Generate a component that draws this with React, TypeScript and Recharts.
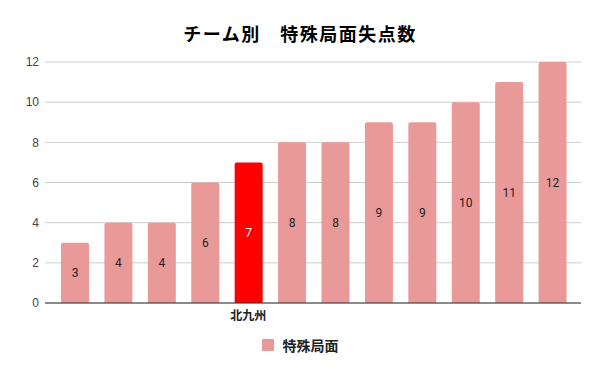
import React from "react";
import {
  BarChart,
  Bar,
  Cell,
  XAxis,
  YAxis,
  CartesianGrid,
  Legend,
  LabelList,
} from "recharts";

// team labels: only 北九州 is labelled on the axis in the source chart
const teamLabels = ["", "", "", "", "北九州", "", "", "", "", "", "", ""];
const conceded = [3, 4, 4, 6, 7, 8, 8, 9, 9, 10, 11, 12];
const yTicks = [0, 2, 4, 6, 8, 10, 12];

const highlightTeam = "北九州";
const seriesName = "特殊局面";

const PINK = "#EA9999";
const RED = "#FF0000";

const chartData = conceded.map((v, i) => ({
  idx: i,
  team: teamLabels[i],
  value: v,
}));

function ValueLabel(props: any) {
  const { x, y, width, height, value, index } = props;
  const isHighlight = teamLabels[index] === highlightTeam;
  return (
    <text
      x={Number(x) + Number(width) / 2}
      y={Number(y) + Number(height) / 2}
      textAnchor="middle"
      dominantBaseline="central"
      fill={isHighlight ? "#ffffff" : "#222222"}
      style={{ fontFamily: "Roboto, sans-serif", fontSize: 12 }}
    >
      {value}
    </text>
  );
}

function LegendBox() {
  return (
    <div
      style={{
        height: 20,
        display: "flex",
        alignItems: "center",
        justifyContent: "center",
        gap: 9,
      }}
    >
      <span style={{ width: 12, height: 12, background: PINK, display: "inline-block" }} />
      <span
        style={{
          fontFamily: "'Noto Sans CJK JP', sans-serif",
          fontWeight: 700,
          fontSize: 14,
          color: "#222",
        }}
      >
        {seriesName}
      </span>
    </div>
  );
}

export default function App() {
  return (
    <div style={{ position: "absolute", left: 0, top: 0, width: 600, height: 371, background: "#fff" }}>
      <div
        style={{
          position: "absolute",
          top: 21,
          left: 0,
          width: 600,
          textAlign: "center",
          fontFamily: "'Noto Sans CJK JP', sans-serif",
          fontWeight: 700,
          fontSize: 18,
          letterSpacing: 1.5,
          lineHeight: "24px",
          color: "#000",
        }}
      >
        チーム別　特殊局面失点数
      </div>
      <BarChart
        width={600}
        height={371}
        data={chartData}
        margin={{ top: 62, right: 19, bottom: 16, left: 0 }}
      >
        <CartesianGrid vertical={false} stroke="#cccccc" />
        <XAxis
          dataKey="idx"
          type="category"
          height={32}
          padding={{ left: 8, right: 7 }}
          axisLine={{ stroke: "#333333" }}
          tickLine={false}
          interval={0}
          tickFormatter={(v: any) => teamLabels[Number(v)]}
          tick={{ fill: "#222", fontSize: 12, fontWeight: 700, fontFamily: "'Noto Sans CJK JP', sans-serif" }}
        />
        <YAxis
          width={45}
          domain={[0, 12]}
          ticks={yTicks}
          axisLine={false}
          tickLine={false}
          tickMargin={0}
          tick={{ fill: "#444", fontSize: 12, fontFamily: "'Liberation Sans', Arial, sans-serif" }}
        />
        <Legend
          verticalAlign="bottom"
          wrapperStyle={{ left: 0, width: 600 }}
          content={() => <LegendBox />}
        />
        <Bar dataKey="value" name={seriesName} barSize={28} radius={[2, 2, 0, 0]} isAnimationActive={false}>
          {chartData.map((d) => (
            <Cell key={d.idx} fill={d.team === highlightTeam ? RED : PINK} />
          ))}
          <LabelList dataKey="value" content={ValueLabel} />
        </Bar>
      </BarChart>
    </div>
  );
}
